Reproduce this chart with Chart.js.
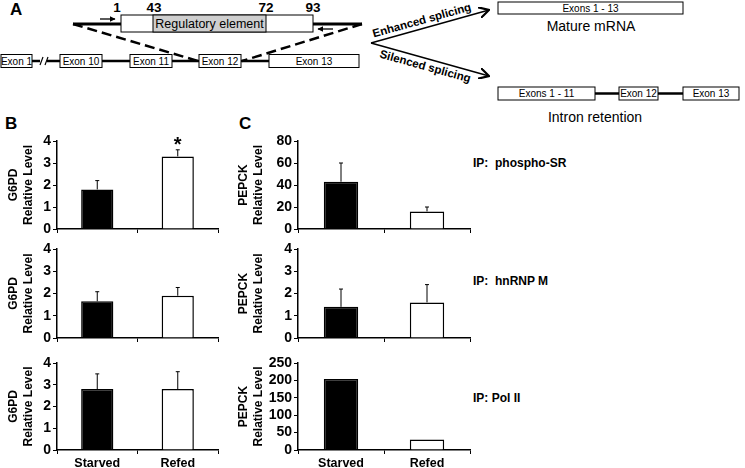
<!DOCTYPE html>
<html>
<head>
<meta charset="utf-8">
<script src="https://cdn.jsdelivr.net/npm/chart.js@4"></script>
<style>
  html, body { margin:0; padding:0; background:#fff; }
  body { width:745px; height:468px; position:relative; overflow:hidden; font-family:"Liberation Sans", Arial, sans-serif; }
  canvas, .lbl, svg { position:absolute; }
  .lbl { font-weight:bold; color:#000; white-space:pre; line-height:1; }
</style>
</head>
<body>
<svg width="745" height="130" style="left:0;top:0" font-family="Liberation Sans, Arial, sans-serif">
  <defs>
    <marker id="open" viewBox="0 0 10 10" refX="9" refY="5" markerWidth="11" markerHeight="11" markerUnits="userSpaceOnUse" orient="auto">
      <path d="M0,0 L9,5 L0,10" fill="none" stroke="#000" stroke-width="2"/>
    </marker>
    <marker id="solid" viewBox="0 0 10 10" refX="9" refY="5" markerWidth="6" markerHeight="6" markerUnits="userSpaceOnUse" orient="auto">
      <path d="M0,0 L10,5 L0,10 z" fill="#000"/>
    </marker>
  </defs>
  <text x="10" y="15" font-size="17" font-weight="bold">A</text>
  <line x1="73" y1="24" x2="121" y2="24" stroke="#000" stroke-width="3"/>
  <line x1="313" y1="24" x2="362" y2="24" stroke="#000" stroke-width="3"/>
  <line x1="100" y1="19" x2="115" y2="19" stroke="#000" stroke-width="1.3" marker-end="url(#solid)"/>
  <line x1="333" y1="29" x2="318" y2="29" stroke="#000" stroke-width="1.3" marker-end="url(#solid)"/>
  <rect x="121" y="15" width="192" height="17" fill="#fff" stroke="#000" stroke-width="1"/>
  <rect x="153" y="15" width="113" height="17" fill="#cfcfcf" stroke="#000" stroke-width="1"/>
  <text x="209.5" y="28" font-size="12.5" text-anchor="middle">Regulatory element</text>
  <g font-size="13.5" font-weight="bold" text-anchor="middle">
    <text x="117" y="12">1</text><text x="154" y="12">43</text><text x="266" y="12">72</text><text x="313" y="12">93</text>
  </g>
  <line x1="73" y1="24" x2="198" y2="61" stroke="#000" stroke-width="2.5" stroke-dasharray="10,5"/>
  <line x1="362" y1="24" x2="242" y2="61" stroke="#000" stroke-width="2.5" stroke-dasharray="10,5"/>
  <g stroke="#000" stroke-width="2.5">
    <line x1="32" y1="61" x2="40" y2="61"/><line x1="47" y1="61" x2="60" y2="61"/>
    <line x1="102" y1="61" x2="130" y2="61"/><line x1="172" y1="61" x2="199" y2="61"/><line x1="241" y1="61" x2="269" y2="61"/>
  </g>
  <g stroke="#000" stroke-width="1.2"><line x1="40" y1="65" x2="43" y2="57"/><line x1="45" y1="65" x2="48" y2="57"/></g>
  <g fill="#fff" stroke="#000" stroke-width="1">
    <rect x="1" y="54.5" width="31" height="13"/><rect x="60" y="54.5" width="42" height="13"/><rect x="130" y="54.5" width="42" height="13"/>
    <rect x="199" y="54.5" width="42" height="13"/><rect x="269" y="54.5" width="90" height="13"/>
  </g>
  <g font-size="10" text-anchor="middle">
    <text x="16.5" y="64.5">Exon 1</text><text x="81" y="64.5">Exon 10</text><text x="151" y="64.5">Exon 11</text>
    <text x="220" y="64.5">Exon 12</text><text x="314" y="64.5">Exon 13</text>
  </g>
  <line x1="371" y1="43" x2="489" y2="10" stroke="#000" stroke-width="1.5" marker-end="url(#open)"/>
  <line x1="371" y1="43" x2="489" y2="76" stroke="#000" stroke-width="1.5" marker-end="url(#open)"/>
  <text transform="translate(422,21) rotate(-15.5)" font-size="11.5" font-weight="bold" text-anchor="middle" dominant-baseline="middle">Enhanced splicing</text>
  <text transform="translate(425,67) rotate(15.5)" font-size="11.5" font-weight="bold" text-anchor="middle" dominant-baseline="middle">Silenced splicing</text>
  <rect x="498" y="2" width="185" height="12" fill="#fff" stroke="#000" stroke-width="1"/>
  <text x="590.5" y="11.5" font-size="10" text-anchor="middle">Exons 1 - 13</text>
  <text x="591" y="31" font-size="14" text-anchor="middle">Mature mRNA</text>
  <g stroke="#000" stroke-width="2.5"><line x1="595" y1="93.5" x2="619" y2="93.5"/><line x1="658" y1="93.5" x2="683" y2="93.5"/></g>
  <g fill="#fff" stroke="#000" stroke-width="1">
    <rect x="498" y="87" width="97" height="13"/><rect x="619" y="87" width="39" height="13"/><rect x="683" y="87" width="56" height="13"/>
  </g>
  <g font-size="10" text-anchor="middle">
    <text x="546.5" y="97">Exons 1 - 11</text><text x="638.5" y="97">Exon 12</text><text x="711" y="97">Exon 13</text>
  </g>
  <text x="595" y="122" font-size="14" text-anchor="middle">Intron retention</text>
</svg>

<div class="lbl" style="left:5px;top:115px;font-size:17px;">B</div>
<div class="lbl" style="left:239px;top:115px;font-size:17px;">C</div>
<div class="lbl" style="left:473px;top:157px;font-size:12px;">IP:  phospho-SR</div>
<div class="lbl" style="left:473px;top:275px;font-size:12px;">IP:  hnRNP M</div>
<div class="lbl" style="left:473px;top:392px;font-size:12px;">IP: Pol II</div>

<canvas id="b1"></canvas><canvas id="b2"></canvas><canvas id="b3"></canvas>
<canvas id="c1"></canvas><canvas id="c2"></canvas><canvas id="c3"></canvas>

<script>
// ---- data ----
const categories = ['Starved', 'Refed'];
const g6pdPhosphoSR = [1.8, 3.3];
const g6pdPhosphoSRErr = [0.4, 0.3];
const g6pdHnRNPM = [1.65, 1.9];
const g6pdHnRNPMErr = [0.43, 0.37];
const g6pdPolII = [2.8, 2.8];
const g6pdPolIIErr = [0.7, 0.8];
const pepckPhosphoSR = [43, 16];
const pepckPhosphoSRErr = [17, 4];
const pepckHnRNPM = [1.4, 1.6];
const pepckHnRNPMErr = [0.8, 0.8];
const pepckPolII = [204, 30];
const pepckPolIIErr = [0, 0];
const g6pdSignificant = [false, true];

Chart.defaults.font.family = '"Liberation Sans", Arial, sans-serif';
Chart.defaults.color = '#000';

const errorBars = {
  id: 'errorBars',
  afterDatasetsDraw(chart, args, opts) {
    const ctx = chart.ctx, ys = chart.scales.y;
    const meta = chart.getDatasetMeta(0);
    const vals = chart.data.datasets[0].data;
    ctx.save();
    meta.data.forEach((bar, i) => {
      const e = opts.errors[i];
      const top = ys.getPixelForValue(vals[i] + e);
      const base = ys.getPixelForValue(vals[i]);
      if (e > 0) {
        ctx.strokeStyle = '#000'; ctx.lineWidth = 1;
        ctx.beginPath();
        ctx.moveTo(bar.x, base); ctx.lineTo(bar.x, top);
        ctx.moveTo(bar.x - 2, top); ctx.lineTo(bar.x + 2, top);
        ctx.stroke();
      }
      if (opts.stars && opts.stars[i]) {
        ctx.fillStyle = '#000';
        ctx.font = 'bold 20px "Liberation Sans", Arial, sans-serif';
        ctx.textAlign = 'center'; ctx.textBaseline = 'alphabetic';
        ctx.fillText('*', bar.x, top + 1);
      }
    });
    ctx.restore();
  }
};

function makeChart(id, left, width, yWidth, areaTop, areaBottom, values, errors, yMax, step, gene, showLabels, stars) {
  const cv = document.getElementById(id);
  const padTop = 12, xH = 20;
  cv.width = width; cv.height = (areaBottom - areaTop) + padTop + xH;
  cv.style.left = left + 'px'; cv.style.top = (areaTop - padTop) + 'px';
  new Chart(cv, {
    type: 'bar',
    data: { labels: categories, datasets: [{
      data: values,
      backgroundColor: ['#000', '#fff'],
      borderColor: '#000', borderWidth: 1.5,
      barPercentage: 0.4, categoryPercentage: 1
    }]},
    options: {
      responsive: false, animation: false, devicePixelRatio: 1,
      layout: { padding: { top: padTop, right: 2, left: 0, bottom: 0 } },
      plugins: { legend: { display: false }, tooltip: { enabled: false },
        errorBars: { errors: errors, stars: stars } },
      scales: {
        x: {
          border: { color: '#000', width: 1.5 },
          grid: { drawOnChartArea: false, tickLength: 4, color: '#000', offset: true },
          ticks: { display: showLabels, font: { size: 12.5, weight: 'bold' }, color: '#000', padding: 2 },
          afterFit(s) { s.height = xH; }
        },
        y: {
          min: 0, max: yMax,
          border: { color: '#000', width: 1.5 },
          grid: { drawOnChartArea: false, tickLength: 4, color: '#000' },
          ticks: { stepSize: step, autoSkip: false, font: { size: 14, weight: 'bold' }, color: '#000', padding: 2 },
          title: { display: true, text: [gene, 'Relative Level'], font: { size: 12, weight: 'bold', lineHeight: 1.25 }, color: '#000', padding: { top: 6, bottom: 0 } },
          afterFit(s) { s.width = yWidth; }
        }
      }
    },
    plugins: [errorBars]
  });
}

makeChart('b1', 0, 220, 57, 141, 229, g6pdPhosphoSR, g6pdPhosphoSRErr, 4, 1, 'G6PD', false, g6pdSignificant);
makeChart('b2', 0, 220, 57, 249, 338, g6pdHnRNPM, g6pdHnRNPMErr, 4, 1, 'G6PD', false, null);
makeChart('b3', 0, 220, 57, 363, 450, g6pdPolII, g6pdPolIIErr, 4, 1, 'G6PD', true, null);
makeChart('c1', 230, 242, 68, 141, 229, pepckPhosphoSR, pepckPhosphoSRErr, 80, 20, 'PEPCK', false, null);
makeChart('c2', 230, 242, 68, 249, 338, pepckHnRNPM, pepckHnRNPMErr, 4, 1, 'PEPCK', false, null);
makeChart('c3', 230, 242, 68, 363, 450, pepckPolII, pepckPolIIErr, 250, 50, 'PEPCK', true, null);
</script>
</body>
</html>
